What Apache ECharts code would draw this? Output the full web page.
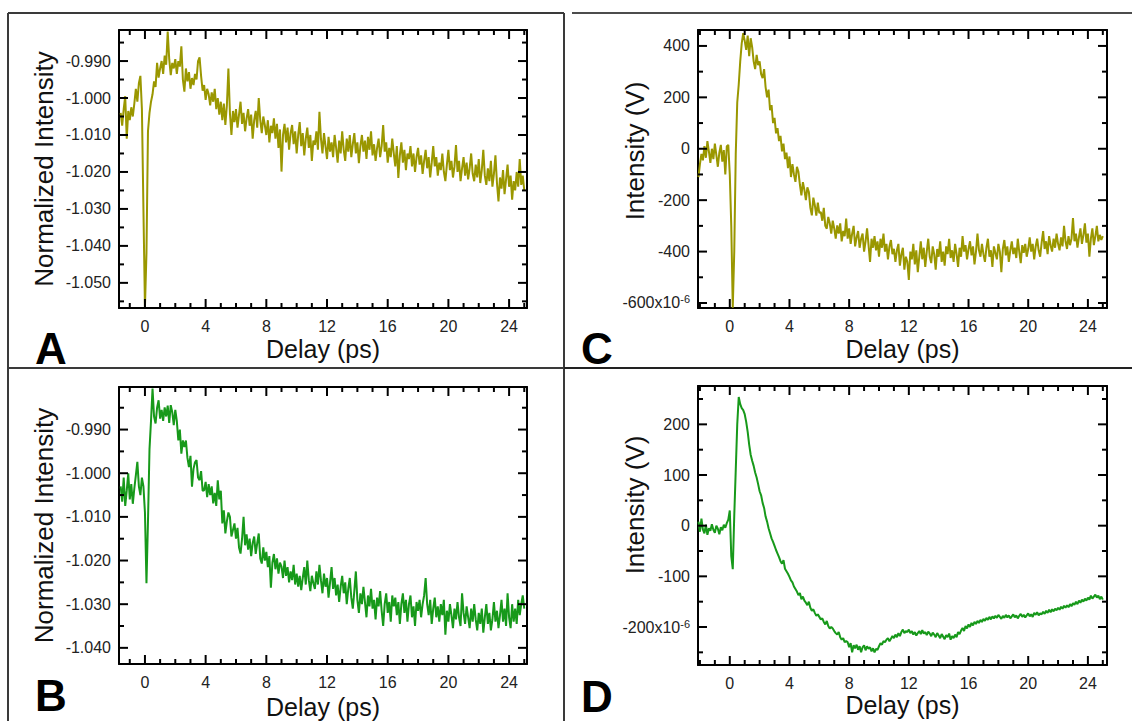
<!DOCTYPE html>
<html><head><meta charset="utf-8">
<script src="https://cdn.jsdelivr.net/npm/echarts@6/dist/echarts.min.js"></script>
<style>html,body{margin:0;padding:0;background:#fff;}#chart{width:1132px;height:721px;}</style>
</head><body><div id="chart"></div>
<script>
// ---------------- DATA ----------------
const delays = [
-2.1,-2,-1.9,-1.8,-1.7,-1.6,-1.5,-1.4,-1.3,-1.2,
-1.1,-1,-0.9,-0.8,-0.7,-0.6,-0.5,-0.4,-0.3,-0.2,
-0.1,0,0.1,0.2,0.3,0.4,0.5,0.6,0.7,0.8,
0.9,1,1.1,1.2,1.3,1.4,1.5,1.6,1.7,1.8,
1.9,2,2.1,2.2,2.3,2.4,2.5,2.6,2.7,2.8,
2.9,3,3.1,3.2,3.3,3.4,3.5,3.6,3.7,3.8,
3.9,4,4.1,4.2,4.3,4.4,4.5,4.6,4.7,4.8,
4.9,5,5.1,5.2,5.3,5.4,5.5,5.6,5.7,5.8,
5.9,6,6.1,6.2,6.3,6.4,6.5,6.6,6.7,6.8,
6.9,7,7.1,7.2,7.3,7.4,7.5,7.6,7.7,7.8,
7.9,8,8.1,8.2,8.3,8.4,8.5,8.6,8.7,8.8,
8.9,9,9.1,9.2,9.3,9.4,9.5,9.6,9.7,9.8,
9.9,10,10.1,10.2,10.3,10.4,10.5,10.6,10.7,10.8,
10.9,11,11.1,11.2,11.3,11.4,11.5,11.6,11.7,11.8,
11.9,12,12.1,12.2,12.3,12.4,12.5,12.6,12.7,12.8,
12.9,13,13.1,13.2,13.3,13.4,13.5,13.6,13.7,13.8,
13.9,14,14.1,14.2,14.3,14.4,14.5,14.6,14.7,14.8,
14.9,15,15.1,15.2,15.3,15.4,15.5,15.6,15.7,15.8,
15.9,16,16.1,16.2,16.3,16.4,16.5,16.6,16.7,16.8,
16.9,17,17.1,17.2,17.3,17.4,17.5,17.6,17.7,17.8,
17.9,18,18.1,18.2,18.3,18.4,18.5,18.6,18.7,18.8,
18.9,19,19.1,19.2,19.3,19.4,19.5,19.6,19.7,19.8,
19.9,20,20.1,20.2,20.3,20.4,20.5,20.6,20.7,20.8,
20.9,21,21.1,21.2,21.3,21.4,21.5,21.6,21.7,21.8,
21.9,22,22.1,22.2,22.3,22.4,22.5,22.6,22.7,22.8,
22.9,23,23.1,23.2,23.3,23.4,23.5,23.6,23.7,23.8,
23.9,24,24.1,24.2,24.3,24.4,24.5,24.6,24.7,24.8,
24.9,25
];

// Panel A: normalized intensity (starts at -1.6 ps)
const intensityA = [null,null,null,null,null,
-1.0040,-1.0075,-1.0030,-0.9995,-1.0110,-1.0035,-1.0060,-1.0025,-1.0050,-1.0015,
-0.9975,-1.0010,-0.9960,-0.9940,-1.0030,-1.0300,-1.0565,-1.0420,-1.0090,-1.0040,
-1.0010,-0.9990,-0.9955,-0.9970,-0.9905,-0.9945,-0.9920,-0.9900,-0.9935,-0.9885,
-0.9910,-0.9820,-0.9895,-0.9938,-0.9905,-0.9920,-0.9895,-0.9935,-0.9900,-0.9915,
-0.9860,-0.9950,-0.9983,-0.9920,-0.9955,-0.9930,-0.9975,-0.9946,-0.9965,-0.9935,
-0.9950,-0.9900,-0.9890,-0.9940,-0.9980,-0.9965,-1.0005,-0.9975,-0.9990,-1.0020,
-0.9985,-1.0010,-0.9975,-1.0030,-1.0000,-1.0045,-1.0010,-1.0060,-1.0015,-1.0073,
-1.0020,-0.9920,-1.0040,-1.0100,-1.0035,-1.0065,-1.0030,-1.0080,-1.0045,-1.0010,
-1.0070,-1.0040,-1.0090,-1.0055,-1.0030,-1.0075,-1.0045,-1.0110,-1.0060,-1.0035,
-1.0080,-1.0000,-1.0060,-1.0095,-1.0050,-1.0073,-1.0100,-1.0060,-1.0120,-1.0075,
-1.0095,-1.0055,-1.0110,-1.0070,-1.0135,-1.0085,-1.0199,-1.0100,-1.0070,-1.0120,
-1.0080,-1.0140,-1.0095,-1.0073,-1.0125,-1.0090,-1.0150,-1.0100,-1.0065,-1.0130,
-1.0095,-1.0155,-1.0110,-1.0080,-1.0135,-1.0100,-1.0170,-1.0115,-1.0127,-1.0090,
-1.0140,-1.0037,-1.0110,-1.0150,-1.0095,-1.0130,-1.0165,-1.0105,-1.0145,-1.0120,
-1.0160,-1.0100,-1.0135,-1.0175,-1.0115,-1.0150,-1.0090,-1.0140,-1.0170,-1.0110,
-1.0145,-1.0100,-1.0160,-1.0125,-1.0095,-1.0150,-1.0120,-1.0176,-1.0130,-1.0100,
-1.0145,-1.0115,-1.0165,-1.0105,-1.0140,-1.0090,-1.0155,-1.0125,-1.0170,-1.0135,
-1.0110,-1.0160,-1.0130,-1.0073,-1.0145,-1.0120,-1.0175,-1.0135,-1.0160,-1.0110,
-1.0150,-1.0185,-1.0130,-1.0216,-1.0155,-1.0120,-1.0175,-1.0140,-1.0195,-1.0150,
-1.0165,-1.0130,-1.0185,-1.0150,-1.0200,-1.0160,-1.0135,-1.0180,-1.0155,-1.0205,
-1.0170,-1.0140,-1.0190,-1.0160,-1.0215,-1.0175,-1.0130,-1.0185,-1.0160,-1.0210,
-1.0175,-1.0195,-1.0150,-1.0200,-1.0225,-1.0180,-1.0140,-1.0195,-1.0170,-1.0215,
-1.0185,-1.0127,-1.0200,-1.0170,-1.0225,-1.0190,-1.0160,-1.0210,-1.0175,-1.0220,
-1.0190,-1.0150,-1.0205,-1.0225,-1.0180,-1.0215,-1.0165,-1.0230,-1.0195,-1.0140,
-1.0210,-1.0235,-1.0190,-1.0225,-1.0170,-1.0240,-1.0205,-1.0155,-1.0230,-1.0280,
-1.0215,-1.0245,-1.0195,-1.0260,-1.0220,-1.0180,-1.0240,-1.0210,-1.0275,-1.0225,
-1.0250,-1.0200,-1.0240,-1.0165,-1.0235,-1.0210,-1.0250
];

// Panel B: normalized intensity (starts at -1.6 ps)
const intensityB = [null,null,null,null,null,
-1.0030,-1.0065,-1.0010,-1.0075,-1.0040,-1.0000,-1.0060,-1.0025,-1.0070,-1.0035,
-1.0005,-0.9974,-1.0030,-1.0050,-1.0010,-1.0030,-1.0090,-1.0252,-1.0110,-0.9945,
-0.9880,-0.9806,-0.9870,-0.9886,-0.9850,-0.9833,-0.9875,-0.9855,-0.9880,-0.9849,
-0.9870,-0.9845,-0.9885,-0.9844,-0.9860,-0.9890,-0.9855,-0.9880,-0.9925,-0.9900,
-0.9955,-0.9925,-0.9940,-0.9925,-0.9965,-0.9986,-0.9960,-1.0031,-0.9990,-0.9975,
-0.9970,-1.0010,-1.0016,-0.9995,-1.0040,-1.0039,-1.0020,-1.0055,-1.0025,-1.0050,
-1.0030,-1.0069,-1.0045,-1.0075,-1.0016,-1.0060,-1.0040,-1.0115,-1.0085,-1.0138,
-1.0110,-1.0090,-1.0100,-1.0145,-1.0130,-1.0115,-1.0150,-1.0125,-1.0170,-1.0184,
-1.0150,-1.0100,-1.0165,-1.0140,-1.0175,-1.0150,-1.0190,-1.0160,-1.0145,-1.0185,
-1.0160,-1.0138,-1.0195,-1.0207,-1.0170,-1.0200,-1.0180,-1.0215,-1.0190,-1.0262,
-1.0205,-1.0185,-1.0220,-1.0195,-1.0230,-1.0205,-1.0214,-1.0240,-1.0200,-1.0235,
-1.0215,-1.0250,-1.0225,-1.0245,-1.0210,-1.0255,-1.0230,-1.0260,-1.0235,-1.0268,
-1.0240,-1.0215,-1.0255,-1.0200,-1.0245,-1.0270,-1.0235,-1.0252,-1.0265,-1.0225,
-1.0255,-1.0210,-1.0245,-1.0275,-1.0230,-1.0260,-1.0240,-1.0285,-1.0250,-1.0215,
-1.0265,-1.0240,-1.0280,-1.0255,-1.0295,-1.0260,-1.0235,-1.0275,-1.0250,-1.0300,
-1.0265,-1.0240,-1.0285,-1.0310,-1.0270,-1.0225,-1.0290,-1.0320,-1.0275,-1.0300,
-1.0260,-1.0295,-1.0330,-1.0280,-1.0305,-1.0265,-1.0310,-1.0290,-1.0335,-1.0285,
-1.0305,-1.0270,-1.0315,-1.0350,-1.0300,-1.0275,-1.0320,-1.0295,-1.0340,-1.0280,
-1.0305,-1.0285,-1.0325,-1.0295,-1.0345,-1.0300,-1.0275,-1.0320,-1.0290,-1.0340,
-1.0300,-1.0280,-1.0330,-1.0305,-1.0350,-1.0295,-1.0315,-1.0290,-1.0330,-1.0300,
-1.0280,-1.0240,-1.0300,-1.0325,-1.0290,-1.0345,-1.0310,-1.0285,-1.0330,-1.0305,
-1.0340,-1.0300,-1.0325,-1.0290,-1.0370,-1.0315,-1.0340,-1.0300,-1.0325,-1.0355,
-1.0310,-1.0335,-1.0295,-1.0330,-1.0350,-1.0275,-1.0320,-1.0345,-1.0305,-1.0330,
-1.0355,-1.0310,-1.0340,-1.0300,-1.0335,-1.0360,-1.0320,-1.0345,-1.0310,-1.0365,
-1.0330,-1.0300,-1.0345,-1.0320,-1.0360,-1.0335,-1.0295,-1.0340,-1.0315,-1.0355,
-1.0325,-1.0290,-1.0340,-1.0310,-1.0350,-1.0275,-1.0330,-1.0355,-1.0300,-1.0340,
-1.0310,-1.0345,-1.0290,-1.0325,-1.0300,-1.0280,-1.0310
];

// Panel C: intensity in micro-volts (x10^-6 V); the dip runs to the bottom of the axis
const intensityC = [
-110,-60,-20,-45,10,-35,30,-10,-55,0,
-40,20,-25,-70,-15,15,-50,-5,-100,10,
15,-100,-300,-618,-400,-20,180,250,340,410,
450,420,385,440,360,430,395,340,310,365,
325,340,290,275,310,240,200,230,150,170,
100,120,60,80,30,50,-10,20,-40,-15,
-75,-30,-110,-60,-100,-129,-70,-90,-140,-181,
-130,-160,-200,-150,-168,-230,-259,-190,-220,-260,
-210,-250,-246,-280,-230,-300,-311,-265,-290,-330,
-280,-310,-350,-298,-330,-290,-360,-320,-340,-272,
-350,-310,-370,-330,-300,-380,-345,-320,-385,-350,
-330,-400,-360,-310,-375,-440,-350,-385,-340,-395,
-360,-420,-350,-385,-330,-400,-370,-430,-380,-355,
-410,-389,-440,-395,-370,-455,-410,-385,-470,-420,
-440,-510,-400,-430,-370,-450,-395,-480,-420,-360,
-430,-385,-460,-400,-350,-420,-445,-380,-410,-470,
-390,-420,-360,-440,-400,-455,-380,-410,-350,-425,
-395,-440,-370,-410,-460,-385,-420,-340,-400,-375,
-430,-390,-360,-415,-380,-450,-400,-330,-395,-420,
-370,-410,-440,-385,-350,-420,-395,-460,-380,-405,
-430,-370,-400,-480,-390,-355,-415,-380,-440,-395,
-360,-410,-385,-425,-350,-400,-445,-375,-405,-370,
-420,-390,-345,-400,-370,-430,-380,-350,-395,-420,
-365,-320,-390,-360,-410,-340,-375,-400,-350,-385,
-330,-370,-395,-345,-380,-300,-360,-390,-340,-375,
-350,-270,-360,-330,-385,-345,-310,-370,-335,-290,
-365,-330,-420,-350,-310,-375,-340,-300,-360,-335,
-355,-340
];

// Panel D: intensity in micro-volts (x10^-6 V)
const intensityD = [
8,-12,14,-8,-15,2,-18,-5,-10,3,
-8,-14,0,-6,-17,-3,-9,2,-4,5,
12,30,-60,-86,20,110,200,254,240,232,
228,220,205,185,160,140,128,118,105,95,
82,68,60,45,35,18,8,-5,-15,-25,
-32,-40,-48,-55,-62,-70,-75,-68,-85,-90,
-95,-101,-108,-112,-120,-125,-130,-137,-133,-145,
-140,-148,-152,-157,-150,-162,-168,-165,-172,-178,
-175,-180,-185,-183,-190,-195,-188,-198,-203,-200,
-203,-208,-212,-215,-210,-220,-225,-222,-230,-228,
-230,-240,-232,-250,-236,-242,-235,-245,-238,-250,
-240,-236,-246,-238,-243,-240,-248,-242,-250,-243,
-245,-238,-232,-235,-228,-230,-225,-222,-228,-223,
-218,-222,-215,-220,-212,-218,-210,-205,-212,-208,
-210,-205,-212,-208,-215,-210,-217,-212,-208,-214,
-206,-213,-210,-216,-209,-213,-218,-211,-215,-220,
-212,-217,-222,-214,-219,-224,-216,-220,-213,-225,
-218,-222,-215,-220,-210,-214,-207,-202,-208,-198,
-203,-195,-200,-192,-197,-190,-194,-188,-192,-186,
-190,-184,-188,-182,-186,-180,-185,-179,-183,-178,
-182,-176,-180,-184,-178,-182,-176,-181,-177,-183,
-179,-175,-181,-177,-183,-178,-174,-180,-176,-181,
-177,-173,-179,-175,-180,-172,-176,-171,-177,-173,
-175,-170,-174,-168,-172,-166,-171,-165,-169,-164,
-167,-162,-166,-160,-164,-158,-162,-157,-161,-155,
-159,-153,-156,-150,-155,-148,-152,-146,-150,-144,
-148,-142,-146,-138,-144,-140,-136,-142,-138,-145,
-140,-146
];

// Tick values and labels
const xMajorTicks = [0,4,8,12,16,20,24];
const xTickLabels = ['0','4','8','12','16','20','24'];
const xMinorTicks = [-2,-1,1,2,3,5,6,7,9,10,11,13,14,15,17,18,19,21,22,23,25];
const yMajorA = [-0.990,-1.000,-1.010,-1.020,-1.030,-1.040,-1.050];
const yLabelsA = ['-0.990','-1.000','-1.010','-1.020','-1.030','-1.040','-1.050'];
const yMinorA = [-0.985,-0.995,-1.005,-1.015,-1.025,-1.035,-1.045,-1.055];
const yMajorB = [-0.990,-1.000,-1.010,-1.020,-1.030,-1.040];
const yLabelsB = ['-0.990','-1.000','-1.010','-1.020','-1.030','-1.040'];
const yMinorB = [-0.985,-0.995,-1.005,-1.015,-1.025,-1.035];
const yMajorC = [400,200,0,-200,-400,-600];
const yLabelsC = ['400','200','0','-200','-400','-600x10'];
const yMinorC = [300,100,-100,-300,-500];
const yMajorD = [200,100,0,-100,-200];
const yLabelsD = ['200','100','0','-100','-200x10'];
const yMinorD = [250,150,50,-50,-150,-250];
const unitExponent = '-6';
const xTitle = 'Delay (ps)';
const yTitleNorm = 'Normalized Intensity';
const yTitleVolt = 'Intensity (V)';
const panelLetters = ['A','B','C','D'];

// ---------------- LAYOUT / STYLE ----------------
const OLIVE = '#9a9700', GREEN = '#17991a';
const FONT = 'Liberation Sans';
const AXC = '#000';
const MAJ_LEN = 9, MIN_LEN = 5;
const panels = [
  {vals:intensityA, color:OLIVE, grid:{left:119,top:30,width:408,height:278}, xMin:-1.71, xMax:25.18, yMin:-1.0568, yMax:-0.9816,
   yMaj:yMajorA, yLab:yLabelsA, yMinr:yMinorA, yName:yTitleNorm, yGap:62, titleXY:null, xGap:28, letterXY:[35,326], exp:false},
  {vals:intensityB, color:GREEN, grid:{left:119,top:387,width:408,height:277}, xMin:-1.71, xMax:25.18, yMin:-1.0437, yMax:-0.98025,
   yMaj:yMajorB, yLab:yLabelsB, yMinr:yMinorB, yName:yTitleNorm, yGap:62, titleXY:null, xGap:30, letterXY:[35,673], exp:false},
  {vals:intensityC, color:OLIVE, grid:{left:698,top:30,width:409,height:278}, xMin:-2.13, xMax:25.28, yMin:-619.5, yMax:462,
   yMaj:yMajorC, yLab:yLabelsC, yMinr:yMinorC, yName:yTitleVolt, yGap:49, titleXY:[635,151], xGap:28, letterXY:[581,326], exp:true},
  {vals:intensityD, color:GREEN, grid:{left:698,top:386,width:409,height:279}, xMin:-2.13, xMax:25.28, yMin:-275, yMax:275.7,
   yMaj:yMajorD, yLab:yLabelsD, yMinr:yMinorD, yName:yTitleVolt, yGap:49, titleXY:[635,505], xGap:27, letterXY:[581,674], exp:true}
];

const grids = [], xAxes = [], yAxes = [], series = [], graphics = [];
const r6 = v => Math.round(v * 1e6) / 1e6;
const pxX = (p, v) => p.grid.left + (v - p.xMin) / (p.xMax - p.xMin) * p.grid.width;
const pxY = (p, v) => p.grid.top + (p.yMax - v) / (p.yMax - p.yMin) * p.grid.height;
const idxOf = (arr, v) => arr.findIndex(t => Math.abs(t - v) < 1e-7);

// an axis pair whose evenly spaced ticks line up with the panel's scale; used for the tick labels
function addLabelGrid(dim, p, ticks, labelOpt) {
  const s = ticks.slice().sort((a, b) => a - b);
  const lo = s[0], hi = s[s.length - 1], step = r6(s[1] - s[0]);
  const gIdx = grids.length;
  if (dim === 'x') {
    const l = pxX(p, lo), r = pxX(p, hi);
    grids.push({left:l, width:r - l, top:p.grid.top, height:p.grid.height});
  } else {
    const t = pxY(p, hi), b = pxY(p, lo);
    grids.push({left:p.grid.left, width:p.grid.width, top:t, height:b - t});
  }
  const ax = {type:'value', gridIndex:gIdx, min:lo, max:hi, interval:step, position: dim === 'x' ? 'bottom' : 'left',
    splitLine:{show:false}, axisLine:{show:false, onZero:false}, axisTick:{show:false}, axisLabel:labelOpt};
  const hidden = {type:'value', gridIndex:gIdx, show:false, min:0, max:1};
  (dim === 'x' ? xAxes : yAxes).push(ax);
  (dim === 'x' ? yAxes : xAxes).push(hidden);
}

panels.forEach((p, gi) => {
  const inY = v => v >= p.yMin && v <= p.yMax;
  const inX = v => v >= p.xMin && v <= p.xMax;
  const mg = grids.length;
  grids.push(Object.assign({containLabel:false}, p.grid));
  const cx = {type:'value', gridIndex:mg, min:p.xMin, max:p.xMax, splitLine:{show:false},
    axisTick:{show:false}, axisLabel:{show:false}};
  const cy = {type:'value', gridIndex:mg, min:p.yMin, max:p.yMax, splitLine:{show:false},
    axisTick:{show:false}, axisLabel:{show:false}};
  const frameLine = {show:true, onZero:false, lineStyle:{color:AXC, width:2}};
  p.xi = xAxes.length; p.yi = yAxes.length;
  xAxes.push(Object.assign({}, cx, {position:'bottom', axisLine:frameLine, name:xTitle, nameLocation:'middle', nameGap:p.xGap,
    nameTextStyle:{fontSize:25, color:'#111', fontFamily:FONT}}));
  xAxes.push(Object.assign({}, cx, {position:'top', axisLine:frameLine}));
  const yMainExtra = p.titleXY ? {} : {name:p.yName, nameLocation:'middle', nameGap:p.yGap,
    nameTextStyle:{fontSize:26, color:'#111', fontFamily:FONT}};
  yAxes.push(Object.assign({}, cy, {position:'left', axisLine:frameLine}, yMainExtra));
  yAxes.push(Object.assign({}, cy, {position:'right', axisLine:frameLine}));
  series.push({type:'line', xAxisIndex:p.xi, yAxisIndex:p.yi, showSymbol:false, symbol:'none', clip:false, animation:false,
    lineStyle:{color:p.color, width:2}, data: delays.map((d, i) => [d, p.vals[i]])});

  addLabelGrid('x', p, xMajorTicks.filter(inX), {show:true, margin:10, fontSize:16, color:'#222', fontFamily:FONT,
    showMinLabel:true, showMaxLabel:true, formatter: v => { const i = idxOf(xMajorTicks, v); return i < 0 ? '' : xTickLabels[i]; }});
  addLabelGrid('y', p, p.yMaj.filter(inY), {show:true, margin:8, fontSize:16, color:'#222', fontFamily:FONT,
    showMinLabel:true, showMaxLabel:true,
    formatter: v => {
      const i = idxOf(p.yMaj, v);
      if (i < 0) return '';
      const txt = p.yLab[i];
      if (p.exp && i === p.yMaj.length - 1) return '{n|' + txt + '}{s|' + unitExponent + '}';
      return '{n|' + txt + '}';
    },
    rich:{n:{fontSize:16, color:'#222', fontFamily:FONT},
          s:{fontSize:11, color:'#222', fontFamily:FONT, verticalAlign:'top', padding:[0,0,7,0]}}});

  if (p.titleXY) {
    graphics.push({type:'text', x:p.titleXY[0], y:p.titleXY[1], rotation:Math.PI / 2,
      style:{text:p.yName, fontSize:26, fontFamily:FONT, fill:'#111', align:'center', verticalAlign:'middle'}});
  }
  graphics.push({type:'text', left:p.letterXY[0], top:p.letterXY[1],
    style:{text:panelLetters[gi], fontSize:44, fontWeight:'bold', fontFamily:FONT, fill:'#000'}});
});

// panel frame lines
const frame = [
  {s:[8,13,8,721], c:'#3a3a3a', w:2}, {s:[8,13,564,13], c:'#3a3a3a', w:2}, {s:[564,13,564,721], c:'#3a3a3a', w:2},
  {s:[8,368,564,368], c:'#3a3a3a', w:2}, {s:[564,368,1132,368], c:'#222', w:2}, {s:[572,13,1132,13], c:'#111', w:1.5}
];
frame.forEach(f => graphics.push({type:'line', shape:{x1:f.s[0], y1:f.s[1], x2:f.s[2], y2:f.s[3]},
  style:{stroke:f.c, lineWidth:f.w}}));

const chart = echarts.init(document.getElementById('chart'), null, {renderer:'svg', width:1132, height:721});
chart.setOption({animation:false, grid:grids, xAxis:xAxes, yAxis:yAxes, series:series});

// inward tick marks on all four sides, positioned through each panel's own axis scales
const tickSeg = (x1, y1, x2, y2) => ({type:'line', z:50, shape:{x1, y1, x2, y2}, style:{stroke:AXC, lineWidth:2}});
panels.forEach(p => {
  const X = v => chart.convertToPixel({xAxisIndex:p.xi}, v);
  const Y = v => chart.convertToPixel({yAxisIndex:p.yi}, v);
  const yb = Y(p.yMin), yt = Y(p.yMax), xl = X(p.xMin), xr = X(p.xMax);
  const inX = v => v >= p.xMin && v <= p.xMax;
  const inY = v => v >= p.yMin && v <= p.yMax;
  const addX = len => v => { const x = X(v); graphics.push(tickSeg(x, yb, x, yb - len), tickSeg(x, yt, x, yt + len)); };
  const addY = len => v => { const y = Y(v); graphics.push(tickSeg(xl, y, xl + len, y), tickSeg(xr, y, xr - len, y)); };
  xMajorTicks.filter(inX).forEach(addX(MAJ_LEN));
  xMinorTicks.filter(inX).forEach(addX(MIN_LEN));
  p.yMaj.filter(inY).forEach(addY(MAJ_LEN));
  p.yMinr.filter(inY).forEach(addY(MIN_LEN));
});
chart.setOption({graphic:graphics});
</script></body></html>
